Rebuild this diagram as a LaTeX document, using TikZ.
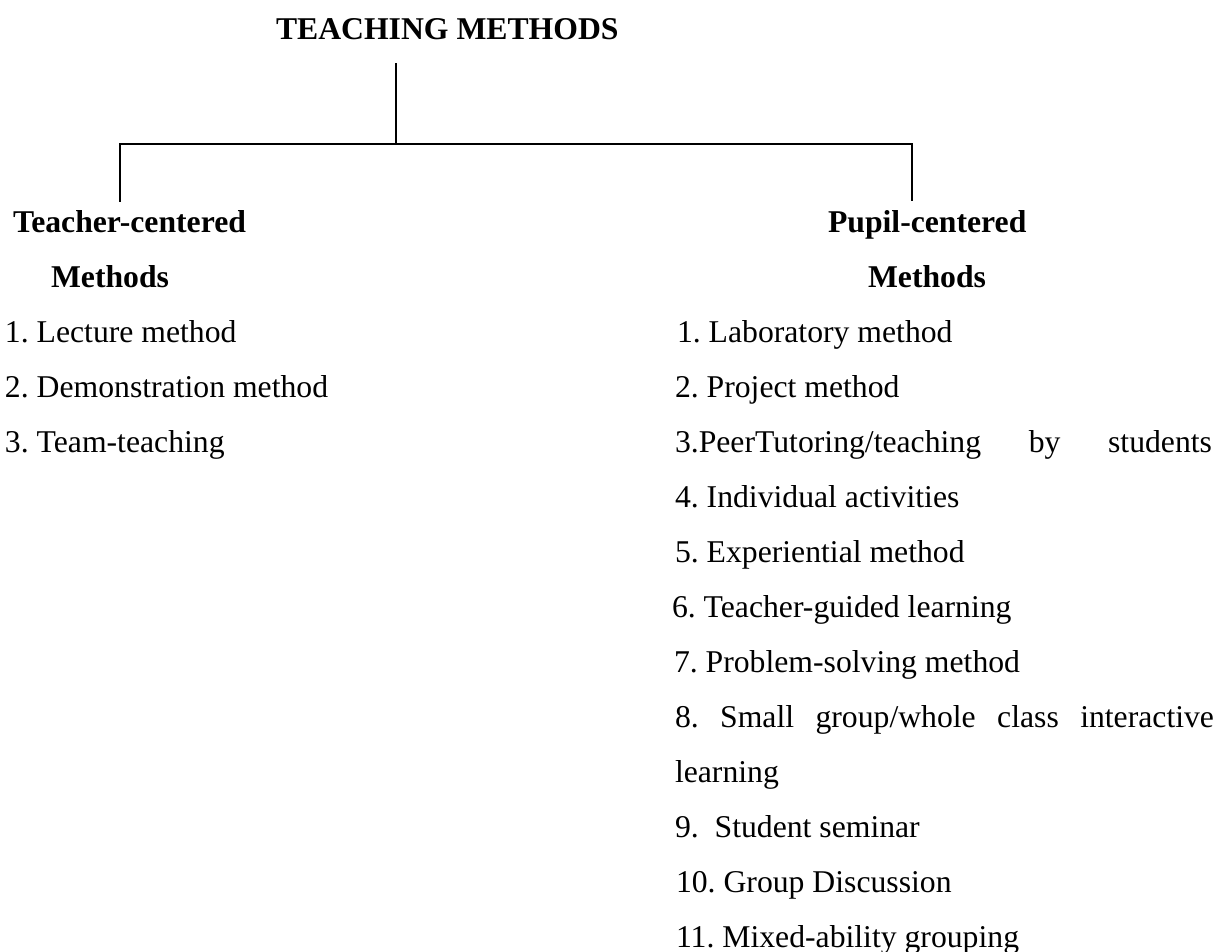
\documentclass[tikz,border=0pt]{standalone}
\usepackage{fontspec}
\setmainfont{Liberation Serif}
\frenchspacing
\tikzset{
  txt/.style={anchor=base west, inner sep=0pt, outer sep=0pt, font=\fontsize{31.7}{38}\selectfont},
  hd/.style={anchor=base west, inner sep=0pt, outer sep=0pt, font=\fontsize{31.7}{38}\selectfont\bfseries},
  conn/.style={line width=2pt, line cap=rect}
}
\begin{document}
\begin{tikzpicture}[x=1pt,y=-1pt]
\useasboundingbox (0,0) rectangle (1217,952);
\fill[white] (0,0) rectangle (1217,952);
% title
\node[hd] (title) at (276,40) {TEACHING METHODS};
% tree connectors
\coordinate (top) at (396,64);
\coordinate (mid) at (396,144);
\coordinate (lt) at (120,144);
\coordinate (rt) at (912,144);
\coordinate (lb) at (120,201);
\coordinate (rb) at (912,200);
\draw[conn] (top) -- (mid);
\draw[conn] (lb) -- (lt) -- (rt) -- (rb);
% left column
\node[hd] (tc1) at (13,232) {Teacher-centered};
\node[hd] (tc2) at (51,287) {Methods};
\node[txt] (l1) at (5,342) {1. Lecture method};
\node[txt] (l2) at (5,397) {2. Demonstration method};
\node[txt] (l3) at (5,452) {3. Team-teaching};
% right column
\node[hd] (pc1) at (828,232) {Pupil-centered};
\node[hd] (pc2) at (868,287) {Methods};
\node[txt] (r1) at (677,342) {1. Laboratory method};
\node[txt] (r2) at (675,397) {2. Project method};
\node[txt] (r3) at (675,452) {\hbox to 537pt{3.PeerTutoring/teaching\hfill by\hfill students}};
\node[txt] (r4) at (675,507) {4. Individual activities};
\node[txt] (r5) at (675,562) {5. Experiential method};
\node[txt] (r6) at (672,617) {6. Teacher-guided learning};
\node[txt] (r7) at (674,672) {7. Problem-solving method};
\node[txt] (r8) at (675,727) {\hbox to 539pt{8.\hfill Small\hfill group/whole\hfill class\hfill interactive}};
\node[txt] (r8b) at (675,782) {learning};
\node[txt] (r9) at (675,837) {9.\ \ Student seminar};
\node[txt] (r10) at (676,892) {10. Group Discussion};
\node[txt] (r11) at (676,947) {11. Mixed-ability grouping};
\end{tikzpicture}
\end{document}
